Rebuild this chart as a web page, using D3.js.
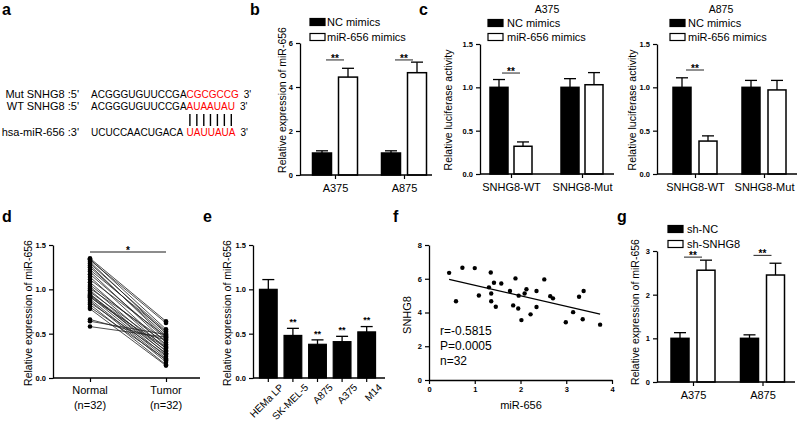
<!DOCTYPE html>
<html><head><meta charset="utf-8">
<script src="https://cdn.jsdelivr.net/npm/d3@7"></script>
<style>
body{margin:0;background:#fff}
svg{display:block;font-family:Arial,"Liberation Sans",Helvetica,sans-serif}
</style></head><body>
<svg id="fig" width="800" height="423"></svg>
<script>
// ---------------- data ----------------
const seqNames = ["Mut SNHG8 :5'", "WT SNHG8 :5'", "hsa-miR-656 :3'"];
const seqBase = ["ACGGGUGUUCCGA", "ACGGGUGUUCCGA", "UCUCCAACUGACA"];
const seqSite = ["CGCGCCG", "AUAAUAU", "UAUUAUA"];

const mimicSeries = ["NC mimics", "miR-656 mimics"];
const bGroups = ["A375", "A875"];
const bMean = [[1.0, 4.45], [1.0, 4.65]];
const bErr = [[0.1, 0.4], [0.1, 0.48]];
const bSig = [5.23, 5.23];
const bTicks = [0, 2, 4, 6];

const lucGroups = ["SNHG8-WT", "SNHG8-Mut"];
const lucA375Mean = [[1.0, 0.32], [1.0, 1.03]];
const lucA375Err = [[0.09, 0.05], [0.1, 0.14]];
const lucA375Sig = [1.165, null];
const lucA875Mean = [[1.0, 0.38], [1.0, 0.97]];
const lucA875Err = [[0.11, 0.06], [0.08, 0.11]];
const lucA875Sig = [1.2, null];
const lucTicks = [0, 0.5, 1.0, 1.5];

const dCats = ["Normal", "Tumor"];
const dSub = ["(n=32)", "(n=32)"];
const dNormal = [1.35,1.34,1.33,1.31,1.29,1.27,1.25,1.22,1.20,1.17,1.14,1.11,1.08,1.05,1.03,1.01,0.99,0.97,0.95,0.94,0.93,0.92,0.91,0.89,0.87,0.85,0.83,0.80,0.78,0.66,0.64,0.58];
const dTumor  = [0.64,0.55,0.62,0.50,0.53,0.45,0.48,0.52,0.40,0.44,0.36,0.47,0.33,0.38,0.30,0.42,0.27,0.35,0.24,0.31,0.28,0.22,0.34,0.20,0.18,0.26,0.15,0.21,0.14,0.43,0.49,0.46];
const dTicks = [0, 0.5, 1.0, 1.5];

const eCells = ["HEMa LP", "SK-MEL-5", "A875", "A375", "M14"];
const eMean = [1.0, 0.48, 0.38, 0.41, 0.52];
const eErr = [0.11, 0.08, 0.05, 0.06, 0.06];
const eStars = ["", "**", "**", "**", "**"];
const eTicks = [0, 0.5, 1.0, 1.5];

const fX = [0.44,0.73,1.00,1.35,0.59,1.09,1.31,1.42,1.58,1.36,1.36,1.46,1.77,1.89,1.84,1.96,1.95,2.02,2.09,2.13,2.22,2.35,2.35,2.52,2.65,2.71,2.99,3.15,3.28,3.36,3.38,3.74];
const fY = [6.35,6.65,6.63,6.37,4.67,5.01,5.49,5.76,5.72,5.13,4.67,4.34,5.27,6.02,4.42,5.00,4.24,3.55,5.13,5.38,3.89,5.27,4.33,5.96,4.97,4.84,3.42,4.02,4.93,3.60,5.27,3.28];
const fStats = ["r=-0.5815", "P=0.0005", "n=32"];
const fXTicks = [0, 1, 2, 3, 4];
const fYTicks = [0, 2, 4, 6, 8];

const gGroups = ["A375", "A875"];
const gSeries = ["sh-NC", "sh-SNHG8"];
const gMean = [[1.0, 2.56], [1.0, 2.45]];
const gErr = [[0.13, 0.23], [0.08, 0.27]];
const gSig = [2.86, 2.9];
const gTicks = [0, 1, 2, 3];

// ---------------- drawing ----------------
const FONT = "Arial, 'Liberation Sans', Helvetica, sans-serif";
const svg = d3.select("#fig");
const fills = ["#000", "#fff"];

function styleAxis(g, fs = 7.5) {
  g.attr("font-family", FONT);
  g.select(".domain").attr("stroke", "#000").attr("stroke-width", 1.3);
  g.selectAll(".tick line").attr("stroke", "#000").attr("stroke-width", 1.2);
  g.selectAll(".tick text").attr("font-size", fs).attr("font-weight", "bold").attr("fill", "#000");
}
function yLabel(text, x, yc, size = 10.5) {
  svg.append("text").attr("transform", `translate(${x},${yc}) rotate(-90)`)
    .attr("text-anchor", "middle").attr("dy", "0.35em").attr("font-size", size).text(text);
}
function legend(x, ys, names, tx) {
  const lg = svg.append("g");
  names.forEach((n, j) => {
    lg.append("rect").attr("x", x).attr("y", ys[j] - 3.5).attr("width", 15).attr("height", 7)
      .attr("fill", fills[j]).attr("stroke", "#000").attr("stroke-width", 1.2);
    lg.append("text").attr("x", tx).attr("y", ys[j]).attr("dy", "0.35em").attr("font-size", 11).text(n);
  });
}
function stars(g, x, yLine, txt, fs = 10) {
  g.append("text").attr("x", x).attr("y", yLine + 1.8).attr("text-anchor", "middle")
    .attr("font-size", fs).attr("font-weight", "bold").text(txt);
}

function barPanel(o) {
  const y = d3.scaleLinear().domain([0, o.yMax]).range([o.y0, o.yTop]);
  const xc = d3.scalePoint().domain(o.groups).range(o.centers);
  const xs = d3.scalePoint().domain(o.series).range([-o.off, o.off]);
  const recs = [];
  o.groups.forEach((grp, i) => o.series.forEach((s, j) => recs.push({ grp, s, j, v: o.mean[i][j], e: o.err[i][j] })));
  const g = svg.append("g");
  const eb = g.selectAll("g.eb").data(recs).join("g");
  eb.append("line").attr("x1", d => xc(d.grp) + xs(d.s)).attr("x2", d => xc(d.grp) + xs(d.s))
    .attr("y1", d => y(d.v)).attr("y2", d => y(d.v + d.e)).attr("stroke", "#000").attr("stroke-width", 1.3);
  eb.append("line").attr("x1", d => xc(d.grp) + xs(d.s) - 6).attr("x2", d => xc(d.grp) + xs(d.s) + 6)
    .attr("y1", d => y(d.v + d.e)).attr("y2", d => y(d.v + d.e)).attr("stroke", "#000").attr("stroke-width", 1.3);
  g.selectAll("rect.bar").data(recs).join("rect").attr("class", "bar")
    .attr("x", d => xc(d.grp) + xs(d.s) - o.bw / 2).attr("width", o.bw)
    .attr("y", d => y(d.v)).attr("height", d => o.y0 - y(d.v))
    .attr("fill", d => fills[d.j]).attr("stroke", "#000").attr("stroke-width", 1.5);
  const ya = g.append("g").attr("transform", `translate(${o.ax},0)`)
    .call(d3.axisLeft(y).tickValues(o.ticks).tickFormat(o.fmt).tickSize(4).tickSizeOuter(0));
  styleAxis(ya);
  const xa = g.append("g").attr("transform", `translate(0,${o.y0})`)
    .call(d3.axisBottom(xc).tickSize(4).tickPadding(5).tickSizeOuter(0));
  xa.select(".domain").remove();
  xa.attr("font-family", FONT);
  xa.selectAll(".tick line").attr("stroke", "#000").attr("stroke-width", 1.2);
  xa.selectAll(".tick text").attr("font-size", 11).attr("fill", "#000");
  xa.append("line").attr("x1", o.ax).attr("x2", o.axEnd).attr("y1", 0).attr("y2", 0)
    .attr("stroke", "#000").attr("stroke-width", 1.3);
  o.sig.forEach((sv, i) => {
    if (sv == null) return;
    const cx = xc(o.groups[i]);
    g.append("line").attr("x1", cx - 9).attr("x2", cx + 9).attr("y1", y(sv)).attr("y2", y(sv))
      .attr("stroke", "#222").attr("stroke-width", 1);
    stars(g, cx, y(sv), "**");
  });
  return { x: xc, y };
}

// panel labels
const panelLabels = [["a", 2, 15], ["b", 250, 15], ["c", 419, 15], ["d", 2, 222], ["e", 203, 222], ["f", 393, 222], ["g", 617, 222]];
svg.selectAll("text.plab").data(panelLabels).join("text").attr("class", "plab")
  .attr("x", d => d[1]).attr("y", d => d[2]).attr("font-size", 16).attr("font-weight", "bold").text(d => d[0]);

// ---- panel a ----
const seqY = [98, 110, 136];
const aG = svg.append("g");
aG.selectAll("text.sname").data(seqNames).join("text").attr("class", "sname")
  .attr("x", 79).attr("y", (d, i) => seqY[i]).attr("text-anchor", "end").attr("font-size", 11).text(d => d);
const seqT = aG.selectAll("text.seq").data(seqBase).join("text").attr("class", "seq")
  .attr("x", 91).attr("y", (d, i) => seqY[i]).attr("font-size", 10);
seqT.append("tspan").text(d => d);
let baseW = 0;
seqT.each(function () { baseW = Math.max(baseW, this.getSubStringLength(0, this.textContent.length)); });
seqT.append("tspan").attr("x", 91 + baseW).attr("fill", "#f00").text((d, i) => seqSite[i]);
seqT.append("tspan").attr("dx", 5).text("3'");
const wtNode = seqT.nodes()[1];
const pairX = d3.range(seqSite[1].length).map(k => {
  const ex = wtNode.getExtentOfChar(seqBase[1].length + k);
  return ex.x + ex.width / 2;
});
aG.selectAll("line.pair").data(pairX).join("line").attr("class", "pair")
  .attr("x1", d => d).attr("x2", d => d).attr("y1", 114).attr("y2", 126)
  .attr("stroke", "#000").attr("stroke-width", 1.4);

// ---- panel b ----
barPanel({ ax: 300, axEnd: 432, y0: 175, yTop: 43, yMax: 6, ticks: bTicks, fmt: d3.format("d"),
  groups: bGroups, series: mimicSeries, centers: [335, 404], off: 13, bw: 19,
  mean: bMean, err: bErr, sig: bSig });
yLabel("Relative expression of miR-656", 282, 100);
legend(310, [22, 37], mimicSeries, 327);

// ---- panel c ----
barPanel({ ax: 480, axEnd: 614, y0: 174, yTop: 44, yMax: 1.5, ticks: lucTicks, fmt: d3.format(".1f"),
  groups: lucGroups, series: mimicSeries, centers: [511, 582], off: 12, bw: 18,
  mean: lucA375Mean, err: lucA375Err, sig: lucA375Sig });
yLabel("Relative luciferase activity", 448, 110);
legend(488, [23, 37], mimicSeries, 507);
svg.append("text").attr("x", 547).attr("y", 9).attr("dy", "0.35em").attr("text-anchor", "middle").attr("font-size", 10.5).text("A375");

barPanel({ ax: 657, axEnd: 797, y0: 174, yTop: 44, yMax: 1.5, ticks: lucTicks, fmt: d3.format(".1f"),
  groups: lucGroups, series: mimicSeries, centers: [695, 764], off: 13, bw: 18,
  mean: lucA875Mean, err: lucA875Err, sig: lucA875Sig });
yLabel("Relative luciferase activity", 632, 110);
legend(670, [23, 37], mimicSeries, 688);
svg.append("text").attr("x", 721).attr("y", 9).attr("dy", "0.35em").attr("text-anchor", "middle").attr("font-size", 10.5).text("A875");

// ---- panel d ----
(function () {
  const y = d3.scaleLinear().domain([0, 1.5]).range([378, 245]);
  const x = d3.scalePoint().domain(dCats).range([90, 166]);
  const g = svg.append("g");
  const pairs = dNormal.map((v, i) => [v, dTumor[i]]);
  g.selectAll("line.pl").data(pairs).join("line").attr("class", "pl")
    .attr("x1", x(dCats[0])).attr("x2", x(dCats[1]))
    .attr("y1", d => y(d[0])).attr("y2", d => y(d[1])).attr("stroke", "#222").attr("stroke-width", 0.8);
  g.selectAll("circle.n").data(dNormal).join("circle").attr("class", "n")
    .attr("cx", x(dCats[0])).attr("cy", d => y(d)).attr("r", 2.3).attr("fill", "#000");
  g.selectAll("circle.t").data(dTumor).join("circle").attr("class", "t")
    .attr("cx", x(dCats[1])).attr("cy", d => y(d)).attr("r", 2.3).attr("fill", "#000");
  const ya = g.append("g").attr("transform", "translate(53,0)")
    .call(d3.axisLeft(y).tickValues(dTicks).tickFormat(d3.format(".1f")).tickSize(4).tickSizeOuter(0));
  styleAxis(ya);
  const xa = g.append("g").attr("transform", "translate(0,378)")
    .call(d3.axisBottom(x).tickSize(4).tickSizeOuter(0).tickFormat(""));
  xa.select(".domain").remove();
  xa.selectAll(".tick line").attr("stroke", "#000").attr("stroke-width", 1.2);
  xa.append("line").attr("x1", 53).attr("x2", 200).attr("stroke", "#000").attr("stroke-width", 1.3);
  dCats.forEach((c, i) => {
    g.append("text").attr("x", x(c)).attr("y", 390).attr("dy", "0.35em").attr("text-anchor", "middle").attr("font-size", 11).text(c);
    g.append("text").attr("x", x(c)).attr("y", 405).attr("dy", "0.35em").attr("text-anchor", "middle").attr("font-size", 11).text(dSub[i]);
  });
  g.append("line").attr("x1", x(dCats[0])).attr("x2", x(dCats[1])).attr("y1", 252).attr("y2", 252)
    .attr("stroke", "#666").attr("stroke-width", 1.3);
  stars(g, (x(dCats[0]) + x(dCats[1])) / 2, 252, "*");
  yLabel("Relative expression of miR-656", 28, 313);
})();

// ---- panel e ----
(function () {
  const y = d3.scaleLinear().domain([0, 1.5]).range([378, 245]);
  const x = d3.scaleBand().domain(eCells).range([257, 378]).paddingInner(0.28).paddingOuter(0.1);
  const g = svg.append("g");
  const recs = eCells.map((c, i) => ({ c, v: eMean[i], e: eErr[i], s: eStars[i] }));
  const cx = d => x(d.c) + x.bandwidth() / 2;
  g.selectAll("line.ev").data(recs).join("line").attr("class", "ev")
    .attr("x1", cx).attr("x2", cx).attr("y1", d => y(d.v)).attr("y2", d => y(d.v + d.e)).attr("stroke", "#000").attr("stroke-width", 1.3);
  g.selectAll("line.ec").data(recs).join("line").attr("class", "ec")
    .attr("x1", d => cx(d) - 6).attr("x2", d => cx(d) + 6).attr("y1", d => y(d.v + d.e)).attr("y2", d => y(d.v + d.e)).attr("stroke", "#000").attr("stroke-width", 1.3);
  g.selectAll("rect.eb").data(recs).join("rect").attr("class", "eb")
    .attr("x", d => x(d.c)).attr("width", x.bandwidth()).attr("y", d => y(d.v)).attr("height", d => 378 - y(d.v))
    .attr("fill", "#000").attr("stroke", "#000").attr("stroke-width", 1.2);
  recs.forEach(d => { if (d.s) stars(g, cx(d), y(d.v + d.e) - 5, d.s, 9); });
  const ya = g.append("g").attr("transform", "translate(253,0)")
    .call(d3.axisLeft(y).tickValues(eTicks).tickFormat(d3.format(".1f")).tickSize(4).tickSizeOuter(0));
  styleAxis(ya);
  g.append("line").attr("x1", 253).attr("x2", 385).attr("y1", 378).attr("y2", 378).attr("stroke", "#000").attr("stroke-width", 1.3);
  g.selectAll("line.xt").data(recs).join("line").attr("class", "xt")
    .attr("x1", cx).attr("x2", cx).attr("y1", 378).attr("y2", 382).attr("stroke", "#000").attr("stroke-width", 1.2);
  g.selectAll("text.xl").data(recs).join("text").attr("class", "xl")
    .attr("transform", d => `translate(${cx(d) + 11},${383}) rotate(-45)`)
    .attr("text-anchor", "end").attr("dy", "0.7em").attr("font-size", 10).text(d => d.c);
  yLabel("Relative expression of miR-656", 227, 313);
})();

// ---- panel f ----
(function () {
  const x = d3.scaleLinear().domain([0, 4]).range([429, 612]);
  const y = d3.scaleLinear().domain([0, 8]).range([380, 245]);
  const g = svg.append("g");
  const pts = fX.map((v, i) => [v, fY[i]]);
  g.selectAll("circle.sp").data(pts).join("circle").attr("class", "sp")
    .attr("cx", d => x(d[0])).attr("cy", d => y(d[1])).attr("r", 2.2).attr("fill", "#000");
  const mx = d3.mean(fX), my = d3.mean(fY);
  const slope = d3.sum(pts, d => (d[0] - mx) * (d[1] - my)) / d3.sum(pts, d => (d[0] - mx) ** 2);
  const x0 = d3.min(fX), x1 = d3.max(fX);
  g.append("line").attr("x1", x(x0)).attr("x2", x(x1))
    .attr("y1", y(my + slope * (x0 - mx))).attr("y2", y(my + slope * (x1 - mx)))
    .attr("stroke", "#000").attr("stroke-width", 1.3);
  const ya = g.append("g").attr("transform", "translate(429,0)")
    .call(d3.axisLeft(y).tickValues(fYTicks).tickFormat(d3.format("d")).tickSize(4).tickSizeOuter(0));
  styleAxis(ya);
  const xa = g.append("g").attr("transform", "translate(0,380)")
    .call(d3.axisBottom(x).tickValues(fXTicks).tickFormat(d3.format("d")).tickSize(4).tickSizeOuter(0));
  styleAxis(xa);
  g.selectAll("text.st").data(fStats).join("text").attr("class", "st")
    .attr("x", 440).attr("y", (d, i) => 331 + i * 15).attr("dy", "0.35em").attr("font-size", 12).text(d => d);
  g.append("text").attr("x", 521).attr("y", 405).attr("dy", "0.35em").attr("text-anchor", "middle").attr("font-size", 11).text("miR-656");
  yLabel("SNHG8", 407, 315, 11);
})();

// ---- panel g ----
barPanel({ ax: 657, axEnd: 795, y0: 382, yTop: 251, yMax: 3, ticks: gTicks, fmt: d3.format("d"),
  groups: gGroups, series: gSeries, centers: [693, 762.5], off: 13, bw: 18,
  mean: gMean, err: gErr, sig: gSig });
yLabel("Relative expression of miR-656", 635, 312);
legend(668, [229, 244], gSeries, 687);
</script>
</body></html>
